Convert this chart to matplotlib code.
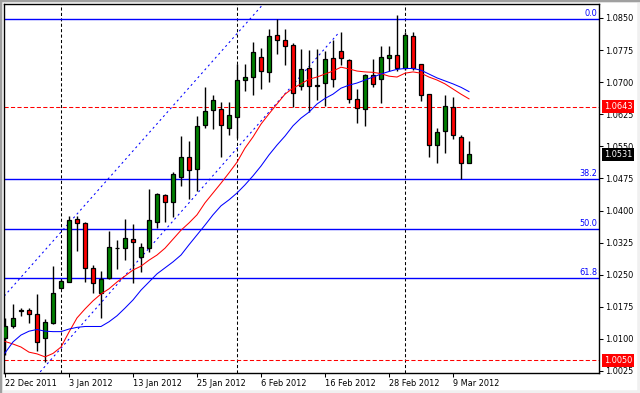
import numpy as np
import matplotlib.pyplot as plt
from matplotlib.patches import Rectangle

# daily candles, 22 Dec 2011 .. 13 Mar 2012 (weekdays)
opens = [1.0101, 1.0129, 1.0166, 1.0168, 1.0158, 1.0101, 1.0137, 1.0220, 1.0234, 1.0380,
         1.0370, 1.0265, 1.0207, 1.0242, 1.0312, 1.0312, 1.0333, 1.0292, 1.0313, 1.0374,
         1.0436, 1.0421, 1.0478, 1.0524, 1.0496, 1.0599, 1.0634, 1.0637, 1.0592, 1.0618,
         1.0705, 1.0711, 1.0758, 1.0723, 1.0810, 1.0798, 1.0786, 1.0692, 1.0732, 1.0692,
         1.0697, 1.0756, 1.0773, 1.0751, 1.0661, 1.0637, 1.0716, 1.0707, 1.0756, 1.0763,
         1.0732, 1.0808, 1.0742, 1.0672, 1.0552, 1.0586, 1.0643, 1.0571, 1.0512]
highs = [1.0150, 1.0182, 1.0173, 1.0173, 1.0204, 1.0147, 1.0270, 1.0240, 1.0388, 1.0388,
         1.0373, 1.0273, 1.0259, 1.0352, 1.0331, 1.0380, 1.0369, 1.0323, 1.0450, 1.0441,
         1.0438, 1.0489, 1.0574, 1.0563, 1.0621, 1.0688, 1.0671, 1.0653, 1.0653, 1.0742,
         1.0742, 1.0795, 1.0779, 1.0824, 1.0847, 1.0824, 1.0791, 1.0777, 1.0775, 1.0777,
         1.0772, 1.0799, 1.0817, 1.0753, 1.0683, 1.0719, 1.0753, 1.0785, 1.0785, 1.0857,
         1.0817, 1.0817, 1.0743, 1.0672, 1.0594, 1.0670, 1.0665, 1.0577, 1.0563]
lows = [1.0062, 1.0125, 1.0154, 1.0138, 1.0072, 1.0047, 1.0135, 1.0218, 1.0233, 1.0306,
        1.0234, 1.0208, 1.0148, 1.0240, 1.0263, 1.0284, 1.0231, 1.0256, 1.0304, 1.0360,
        1.0373, 1.0384, 1.0458, 1.0428, 1.0446, 1.0592, 1.0591, 1.0526, 1.0577, 1.0569,
        1.0680, 1.0670, 1.0683, 1.0701, 1.0766, 1.0740, 1.0643, 1.0682, 1.0630, 1.0658,
        1.0644, 1.0688, 1.0739, 1.0652, 1.0605, 1.0598, 1.0688, 1.0651, 1.0726, 1.0726,
        1.0728, 1.0728, 1.0657, 1.0524, 1.0510, 1.0535, 1.0567, 1.0474, 1.0510]
closes = [1.0130, 1.0148, 1.0167, 1.0158, 1.0093, 1.0139, 1.0207, 1.0235, 1.0378, 1.0370,
          1.0265, 1.0230, 1.0240, 1.0314, 1.0313, 1.0335, 1.0327, 1.0314, 1.0377, 1.0438,
          1.0419, 1.0485, 1.0524, 1.0495, 1.0598, 1.0633, 1.0658, 1.0599, 1.0623, 1.0705,
          1.0711, 1.0770, 1.0725, 1.0808, 1.0798, 1.0784, 1.0674, 1.0730, 1.0691, 1.0693,
          1.0753, 1.0707, 1.0756, 1.0660, 1.0639, 1.0717, 1.0696, 1.0758, 1.0763, 1.0732,
          1.0810, 1.0732, 1.0670, 1.0552, 1.0583, 1.0644, 1.0577, 1.0510, 1.0531]

# moving averages
ma_red = [1.0094, 1.0088, 1.0081, 1.0069, 1.0065, 1.0058, 1.0066, 1.0081, 1.0116, 1.0149,
          1.0170, 1.0189, 1.0205, 1.0217, 1.0233, 1.0247, 1.0261, 1.0270, 1.0284, 1.0296,
          1.0312, 1.0333, 1.0354, 1.0371, 1.0390, 1.0418, 1.0441, 1.0464, 1.0488, 1.0513,
          1.0546, 1.0572, 1.0602, 1.0626, 1.0649, 1.0672, 1.0686, 1.0696, 1.0707, 1.0712,
          1.0719, 1.0726, 1.0735, 1.0731, 1.0726, 1.0724, 1.0723, 1.0720, 1.0714, 1.0712,
          1.0721, 1.0724, 1.0721, 1.0712, 1.0705, 1.0696, 1.0684, 1.0672, 1.0661]
ma_blue = [1.0067, 1.0093, 1.0109, 1.0118, 1.0122, 1.0118, 1.0117, 1.0117, 1.0123, 1.0127,
           1.0129, 1.0129, 1.0129, 1.0140, 1.0154, 1.0172, 1.0191, 1.0214, 1.0233, 1.0252,
           1.0266, 1.0280, 1.0296, 1.0320, 1.0343, 1.0366, 1.0390, 1.0411, 1.0425, 1.0441,
           1.0460, 1.0481, 1.0504, 1.0530, 1.0553, 1.0574, 1.0598, 1.0616, 1.0630, 1.0649,
           1.0662, 1.0672, 1.0686, 1.0693, 1.0698, 1.0705, 1.0712, 1.0719, 1.0725, 1.0730,
           1.0732, 1.0732, 1.0728, 1.0719, 1.0710, 1.0703, 1.0696, 1.0688, 1.0678]

date_labels = ['22 Dec 2011', '3 Jan 2012', '13 Jan 2012', '25 Jan 2012',
               '6 Feb 2012', '16 Feb 2012', '28 Feb 2012', '9 Mar 2012']
price_ticks = [1.0025, 1.0100, 1.0175, 1.0250, 1.0325, 1.0400,
               1.0475, 1.0550, 1.0625, 1.0700, 1.0775, 1.0850]

fib_names = ['0.0', '38.2', '50.0', '61.8']
fib_levels = [1.0847, 1.0474, 1.0356, 1.0242]
red_levels = [1.0643, 1.0050]
month_starts = [7, 29, 50]
chan_lower_x, chan_lower_y = [4.4, 41.6], [1.0023, 1.0813]
chan_upper_x, chan_upper_y = [-0.1, 32.3], [1.0200, 1.0883]
last_price = 1.0531

GREEN = '#008000'
RED = '#ff0000'
BLUE = '#0000ff'
FS = 5.9
LW = 0.75

fig = plt.figure(figsize=(6.4, 3.93), dpi=100)
fig.patch.set_facecolor('white')
ax = fig.add_axes([4/640, 20/393, 595/640, 369/393])
ax.set_xlim(-0.125, 74.25)
ax.set_ylim(1.00203, 1.08827)

# separators and levels
for i in month_starts:
    ax.axvline(i, color='black', lw=LW, ls=(0, (3, 2.2)), zorder=1)
for p in red_levels:
    ax.axhline(p, color=RED, lw=LW, ls=(0, (4, 2.2)), zorder=1)
for p, name in zip(fib_levels, fib_names):
    ax.axhline(p, color=BLUE, lw=1.0, zorder=1)
    ax.text(74.0, p + 0.0003, name, color=BLUE, fontsize=FS, ha='right', va='bottom')

ax.plot(chan_lower_x, chan_lower_y, color=BLUE, lw=LW, ls=(0, (2, 3)), zorder=1)
ax.plot(chan_upper_x, chan_upper_y, color=BLUE, lw=LW, ls=(0, (2, 3)), zorder=1)

# candles
x = np.arange(len(opens))
ax.vlines(x, lows, highs, color='black', lw=1, zorder=2)
for i in x:
    o, c = opens[i], closes[i]
    col = GREEN if c >= o else RED
    ax.add_patch(Rectangle((i - 0.28, min(o, c)), 0.56, abs(c - o),
                           facecolor=col, edgecolor='black', lw=0.9, zorder=3))

ax.plot(x, ma_red, color=RED, lw=LW, zorder=4)
ax.plot(x, ma_blue, color=BLUE, lw=LW, zorder=4)

# axes
ax.yaxis.tick_right()
ax.set_yticks(price_ticks)
ax.set_yticklabels(['%.4f' % p for p in price_ticks])
ax.set_xticks(range(0, 8 * len(date_labels), 8))
ax.set_xticklabels(date_labels, ha='left')
ax.tick_params(axis='both', direction='out', length=3, width=LW, labelsize=FS, colors='black')
ax.tick_params(axis='x', pad=1.5)
ax.tick_params(axis='y', pad=1.5)
for s in ax.spines.values():
    s.set_linewidth(1)
    s.set_color('black')

# price boxes on the right axis
boxes = [(1.0643, RED), (last_price, 'black'), (1.0050, RED)]
for p, col in boxes:
    ax.annotate('%.4f' % p, xy=(1, p), xycoords=('axes fraction', 'data'),
                xytext=(3.4, 0), textcoords='offset points', ha='left', va='center',
                color='white', fontsize=FS, annotation_clip=False,
                bbox=dict(boxstyle='square,pad=0.25', fc=col, ec='none'))

# window frame
fig.patches.append(Rectangle((0, 0), 640, 393, transform=None, fill=False,
                             ec='#f0f0f0', lw=4))
fig.patches.append(Rectangle((0, 0), 1, 393, transform=None, color='#a0a0a0'))
fig.patches.append(Rectangle((0, 392), 640, 1, transform=None, color='#a0a0a0'))

fig.savefig('out.png', dpi=100)
